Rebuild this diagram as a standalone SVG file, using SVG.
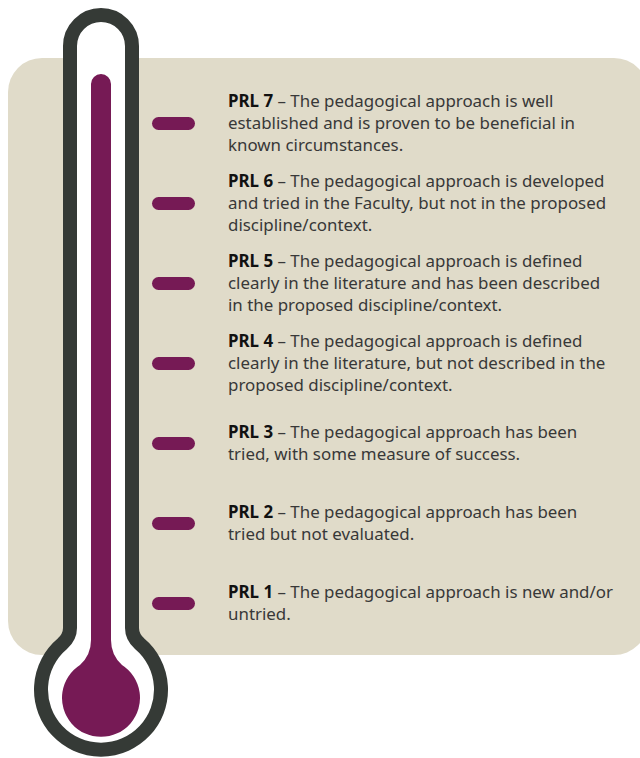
<svg xmlns="http://www.w3.org/2000/svg" width="640" height="758" viewBox="0 0 640 758">
<style>
.panel{fill:#e0dbc9}
.tick{fill:#761a55}
.t{font-family:"Noto Sans","Liberation Sans",sans-serif;font-size:16.9px;fill:#383838}
.b{font-weight:700;fill:#111111}
</style>
<rect class="panel" x="8" y="58" width="640" height="597" rx="34"/>
<g id="thermometer">
<path d="M77,46 A24,24 0 0 1 125,46 L125,628 Q125,640 135,649 A53,53 0 1 1 67,649 Q77,640 77,628 Z" fill="none" stroke="#353a36" stroke-width="28"/>
<path d="M77,46 A24,24 0 0 1 125,46 L125,628 Q125,640 135,649 A53,53 0 1 1 67,649 Q77,640 77,628 Z" fill="#ffffff"/>
<path d="M91,84 A10,10 0 0 1 111,84 L111,640 Q111,655 122,665 A39,39 0 1 1 80,665 Q91,655 91,640 Z" fill="#761a55"/>
</g>
<g id="prl7">
<rect class="tick" x="152" y="117" width="43" height="13" rx="6.5"/>
<text class="t" x="228" y="107"><tspan class="b">PRL 7</tspan> – The pedagogical approach is well</text>
<text class="t" x="228" y="129">established and is proven to be beneficial in</text>
<text class="t" x="228" y="151">known circumstances.</text>
</g>
<g id="prl6">
<rect class="tick" x="152" y="197" width="43" height="13" rx="6.5"/>
<text class="t" x="228" y="187"><tspan class="b">PRL 6</tspan> – The pedagogical approach is developed</text>
<text class="t" x="228" y="209">and tried in the Faculty, but not in the proposed</text>
<text class="t" x="228" y="231">discipline/context.</text>
</g>
<g id="prl5">
<rect class="tick" x="152" y="277" width="43" height="13" rx="6.5"/>
<text class="t" x="228" y="267"><tspan class="b">PRL 5</tspan> – The pedagogical approach is defined</text>
<text class="t" x="228" y="289">clearly in the literature and has been described</text>
<text class="t" x="228" y="311">in the proposed discipline/context.</text>
</g>
<g id="prl4">
<rect class="tick" x="152" y="357" width="43" height="13" rx="6.5"/>
<text class="t" x="228" y="347"><tspan class="b">PRL 4</tspan> – The pedagogical approach is defined</text>
<text class="t" x="228" y="369">clearly in the literature, but not described in the</text>
<text class="t" x="228" y="391">proposed discipline/context.</text>
</g>
<g id="prl3">
<rect class="tick" x="152" y="437" width="43" height="13" rx="6.5"/>
<text class="t" x="228" y="438"><tspan class="b">PRL 3</tspan> – The pedagogical approach has been</text>
<text class="t" x="228" y="460">tried, with some measure of success.</text>
</g>
<g id="prl2">
<rect class="tick" x="152" y="517" width="43" height="13" rx="6.5"/>
<text class="t" x="228" y="518"><tspan class="b">PRL 2</tspan> – The pedagogical approach has been</text>
<text class="t" x="228" y="540">tried but not evaluated.</text>
</g>
<g id="prl1">
<rect class="tick" x="152" y="597" width="43" height="13" rx="6.5"/>
<text class="t" x="228" y="598"><tspan class="b">PRL 1</tspan> – The pedagogical approach is new and/or</text>
<text class="t" x="228" y="620">untried.</text>
</g>
</svg>
